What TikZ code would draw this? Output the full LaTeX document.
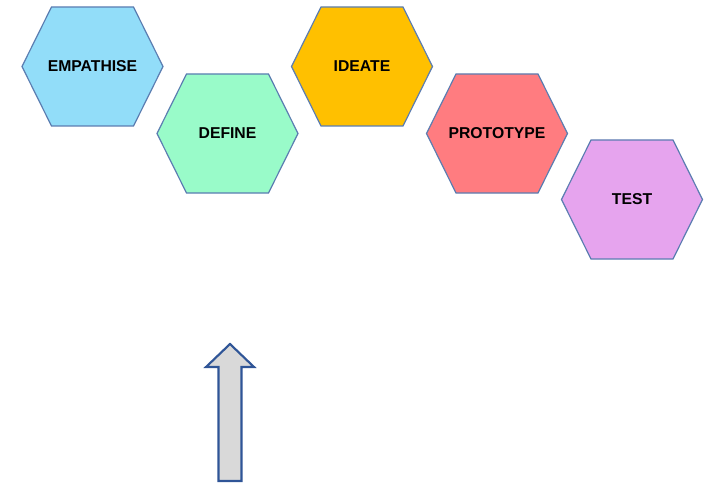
\documentclass[tikz,border=0pt]{standalone}
\usepackage{fontspec}
\setmainfont{Liberation Sans}
\definecolor{empcol}{HTML}{92DDF9}
\definecolor{defcol}{HTML}{99FBC9}
\definecolor{ideacol}{HTML}{FFC000}
\definecolor{protocol}{HTML}{FF7C80}
\definecolor{testcol}{HTML}{E6A4EE}
\definecolor{edgecol}{HTML}{5B7DB1}
\definecolor{arrowcol}{HTML}{2F5597}
\tikzset{
  hexa/.style={draw=edgecol, line width=0.9pt, line join=miter},
  stage/.style={font=\fontsize{11.8}{14}\selectfont\bfseries, text=black},
}
\begin{document}
\begin{tikzpicture}[x=0.75pt,y=-0.75pt]
\useasboundingbox (0,0) rectangle (711,485);

% the five stages
\foreach \cx/\cy/\col/\name/\txt in {92.5/66.5/empcol/empathise/EMPATHISE,
    227.5/133.5/defcol/define/DEFINE,
    362/66.5/ideacol/ideate/IDEATE,
    497/133.5/protocol/prototype/PROTOTYPE,
    632/199.5/testcol/test/TEST}{
  \draw[hexa, fill=\col, shift={(\cx,\cy)}] (-70.5,0) -- (-41,-59.5) -- (41,-59.5)
    -- (70.5,0) -- (41,59.5) -- (-41,59.5) -- cycle;
  \node[stage] (\name) at (\cx,\cy) {\txt};
}

% arrow below
\draw[draw=arrowcol, fill=black!15, line width=1.6pt, line join=miter]
  (230,344) -- (254,367) -- (241.5,367) -- (241.5,481) -- (218.5,481)
  -- (218.5,367) -- (206,367) -- cycle;
\end{tikzpicture}
\end{document}
